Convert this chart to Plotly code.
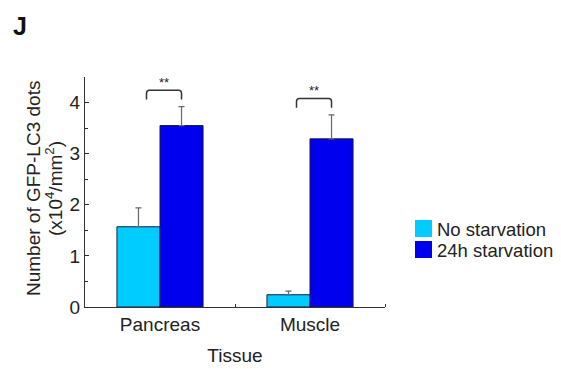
import plotly.graph_objects as go

categories = ["Pancreas", "Muscle"]
no_starv = [1.57, 0.24]
no_starv_err = [0.37, 0.07]
starv24 = [3.55, 3.29]
starv24_err = [0.37, 0.47]
series_names = ["No starvation", "24h starvation"]
colors = ["#00CCFF", "#0000EE"]
bracket_top = [4.24, 4.08]
bracket_tip = [4.06, 3.90]
sig_labels = ["**", "**"]
y_title_lines = ["Number of GFP-LC3 dots", "(x10<sup>4</sup>/mm<sup>2</sup>)"]

x = list(range(len(categories)))
bw = 0.287
FAM = "Liberation Sans, Arial"
font = dict(family=FAM, size=19, color="#222")

L, R, T, B = 85, 385, 77, 307  # plot area in pixels
def px(xp):
    return (xp - L) / (R - L)
def py(yp):
    return (B - yp) / (B - T)

fig = go.Figure()
for vals, errs, name, col, off in [
    (no_starv, no_starv_err, series_names[0], colors[0], -bw / 2),
    (starv24, starv24_err, series_names[1], colors[1], bw / 2),
]:
    fig.add_trace(go.Bar(
        x=[xi + off for xi in x], y=vals, width=bw, name=name,
        marker=dict(color=col, line=dict(color="#1a1a40", width=1)),
        error_y=dict(type="data", array=errs, arrayminus=[0] * len(errs),
                     symmetric=False, color="#666", thickness=1.2, width=3),
        showlegend=False,
    ))

# significance brackets
for i, xi in enumerate(x):
    x0 = xi - 0.09
    x1 = xi + bw / 2
    t = bracket_top[i]
    b = bracket_tip[i]
    r = 0.02
    rv = 0.06
    path = (f"M {x0},{b} L {x0},{t - rv} Q {x0},{t} {x0 + r},{t} "
            f"L {x1 - r},{t} Q {x1},{t} {x1},{t - rv} L {x1},{b}")
    fig.add_shape(type="path", path=path, xref="x", yref="y",
                  line=dict(color="#333", width=1.5))
    fig.add_annotation(x=(x0 + x1) / 2, y=t, text=sig_labels[i], showarrow=False,
                       yanchor="bottom", yshift=-2,
                       font=dict(family=FAM, size=13, color="#222"))

# legend (manual, large swatches)
for j, (name, col) in enumerate(zip(series_names, colors)):
    yc = 228.5 + 21 * j
    fig.add_shape(type="rect", xref="paper", yref="paper",
                  x0=px(415), x1=px(432), y0=py(yc + 8.5), y1=py(yc - 8.5),
                  fillcolor=col, line=dict(width=0))
    fig.add_annotation(xref="paper", yref="paper", x=px(435), y=py(yc + 1),
                       text=name, showarrow=False, xanchor="left", yanchor="middle",
                       font=dict(family=FAM, size=18.5, color="#222"))

# y-axis title as two rotated lines
for k, (line, xc) in enumerate(zip(y_title_lines, [33, 54])):
    fig.add_annotation(xref="paper", yref="paper", x=px(xc), y=py(189), text=line,
                       textangle=-90, showarrow=False, xanchor="center", yanchor="middle",
                       font=font)

fig.add_annotation(xref="paper", yref="paper", x=px(11), y=py(26), text="<b>J</b>",
                   showarrow=False, xanchor="left", yanchor="middle",
                   font=dict(family=FAM, size=25, color="#111"))

fig.update_layout(
    width=561, height=369,
    margin=dict(l=L, r=561 - R, t=T, b=369 - B),
    plot_bgcolor="white", paper_bgcolor="white",
    font=font,
    barmode="overlay",
    xaxis=dict(range=[-0.5, 1.5], tickvals=x, ticktext=categories, ticks="",
               showline=True, linecolor="#333", linewidth=1.2, showgrid=False, zeroline=False,
               automargin=False,
               minor=dict(tickvals=[0.5, 1.5], ticks="inside", ticklen=3, tickcolor="#333"),
               title=dict(text="Tissue", standoff=14, font=dict(family=FAM, size=19, color="#222")),
               tickfont=font),
    yaxis=dict(range=[0, 4.5], tickvals=[0, 1, 2, 3, 4], ticks="inside", ticklen=4,
               tickcolor="#333", showline=True, linecolor="#333", linewidth=1.2,
               showgrid=False, zeroline=False, automargin=False,
               minor=dict(dtick=0.5, ticks="inside", ticklen=3, tickcolor="#333"),
               tickfont=font),
)

fig.write_html("out.html", config={"displayModeBar": False},
               post_script="document.body.style.margin='0';")
